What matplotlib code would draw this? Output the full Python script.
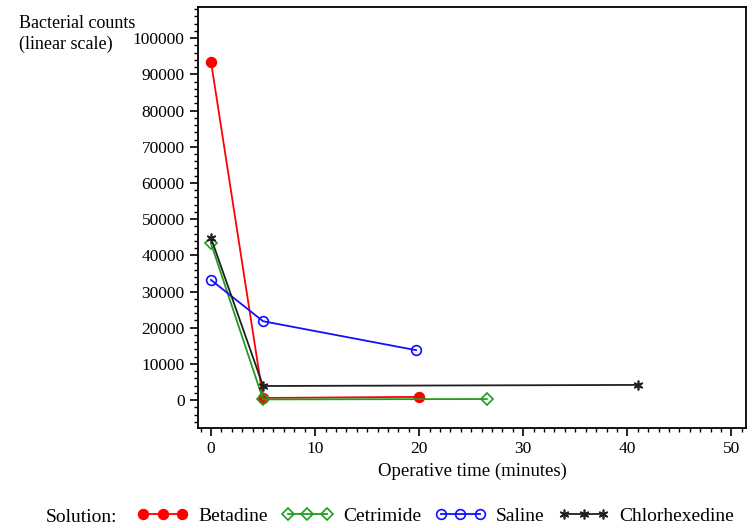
import numpy as np
import matplotlib
matplotlib.use("Agg")
import matplotlib.pyplot as plt
from matplotlib.ticker import MultipleLocator

plt.rcParams['font.family'] = ['Liberation Serif', 'DejaVu Serif']

# data
betadine_t = [0, 5, 20]
betadine_y = [93500, 600, 900]
cetrimide_t = [0, 5, 26.5]
cetrimide_y = [43300, 200, 300]
saline_t = [0, 5, 19.7]
saline_y = [33200, 21800, 13800]
chlor_t = [0, 5, 41]
chlor_y = [44800, 3900, 4200]

series = [
    ("Betadine", betadine_t, betadine_y, "#ff0000", "o", "#ff0000"),
    ("Cetrimide", cetrimide_t, cetrimide_y, "#1e9e1e", "D", "none"),
    ("Saline", saline_t, saline_y, "#1010ff", "o", "none"),
    ("Chlorhexedine", chlor_t, chlor_y, "#202020", (6, 2, 0), "#202020"),
]

fig = plt.figure(figsize=(7.54, 5.28), dpi=100)
ax = fig.add_axes([0.2626, 0.1894, 0.7268, 0.7973])

handles = []
for name, t, y, col, mk, fc in series:
    ms = 7 if mk != "D" else 6
    h, = ax.plot(t, y, color=col, marker=mk, markerfacecolor=fc,
                 markeredgecolor=col, markersize=ms, linewidth=1.3,
                 markeredgewidth=1.2, label=name)
    handles.append(h)

ax.set_xlim(-1.25, 51.4)
ax.set_ylim(-7700, 108600)
ax.xaxis.set_major_locator(MultipleLocator(10))
ax.xaxis.set_minor_locator(MultipleLocator(1))
ax.yaxis.set_major_locator(MultipleLocator(10000))
ax.yaxis.set_minor_locator(MultipleLocator(2000))
ax.set_xticks(np.arange(0, 51, 10))
ax.set_yticks(np.arange(0, 100001, 10000))
ax.tick_params(which='major', direction='out', length=6, width=1.2, labelsize=12.5)
ax.tick_params(which='minor', direction='out', length=3, width=1)
for s in ax.spines.values():
    s.set_linewidth(1.3)

ax.set_xlabel("Operative time (minutes)", fontsize=13.5, labelpad=4)
fig.text(0.025, 0.936, "Bacterial counts\n(linear scale)", fontsize=13,
         ha='left', va='center', linespacing=1.25)

fig.text(0.061, 0.02, "Solution:", fontsize=14, ha='left', va='center')
fig.legend(handles=handles, loc='center left', bbox_to_anchor=(0.172, 0.022),
           ncol=4, frameon=False, numpoints=3, fontsize=14, handlelength=2.6,
           handletextpad=0.55, columnspacing=0.7, borderaxespad=0)

fig.savefig("out.png", dpi=100)
